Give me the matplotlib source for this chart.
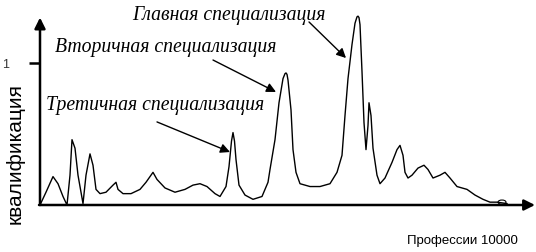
import matplotlib
matplotlib.use('Agg')
import matplotlib.pyplot as plt
from matplotlib.patches import Ellipse

# professions along the axis (0..10000) and qualification level (1 = tick)
professions = [0, 120, 260, 360, 460, 540, 600, 640, 700, 760, 860, 920, 1000, 1060,
               1120, 1200, 1320, 1460, 1520, 1560, 1660, 1820, 2000, 2120, 2260, 2340,
               2500, 2700, 2900, 3060, 3200, 3340, 3500, 3600, 3720, 3780, 3830, 3860,
               3890, 3920, 3980, 4100, 4260, 4440, 4560, 4600, 4700, 4780, 4860, 4900,
               4920, 4940, 4960, 5020, 5060, 5120, 5200, 5400, 5600, 5800, 5940, 6040,
               6100, 6160, 6240, 6300, 6340, 6360, 6380, 6400, 6440, 6480, 6520, 6560,
               6580, 6620, 6660, 6740, 6800, 6900, 7040, 7140, 7200, 7260, 7300, 7360,
               7440, 7560, 7680, 7760, 7860, 8000, 8100, 8200, 8340, 8540, 8700, 8860,
               9000, 9140, 9340]
qualification = [0.00, 0.09, 0.20, 0.15, 0.06, 0.00, 0.21, 0.46, 0.40, 0.21, 0.01, 0.21,
                 0.36, 0.28, 0.11, 0.08, 0.09, 0.14, 0.16, 0.11, 0.08, 0.08, 0.11, 0.16,
                 0.23, 0.18, 0.12, 0.09, 0.11, 0.14, 0.15, 0.13, 0.08, 0.06, 0.13, 0.27,
                 0.45, 0.51, 0.45, 0.32, 0.14, 0.07, 0.04, 0.06, 0.16, 0.25, 0.46, 0.72,
                 0.89, 0.925, 0.93, 0.92, 0.88, 0.67, 0.39, 0.23, 0.15, 0.13, 0.13, 0.15,
                 0.23, 0.35, 0.63, 0.89, 1.13, 1.28, 1.325, 1.33, 1.32, 1.27, 0.94, 0.58,
                 0.39, 0.56, 0.72, 0.63, 0.40, 0.21, 0.15, 0.19, 0.30, 0.39, 0.42, 0.35,
                 0.23, 0.19, 0.21, 0.26, 0.28, 0.25, 0.19, 0.21, 0.23, 0.19, 0.13, 0.11,
                 0.07, 0.04, 0.02, 0.02, 0.01]
blob = (9240, 0.02)

labels = ['Главная специализация', 'Вторичная специализация', 'Третичная специализация']
label_pos = [(1840, 1.331), (300, 1.106), (120, 0.704)]
arrow_from = [(5380, 1.289), (3460, 1.021), (2340, 0.585)]
arrow_to = [(6120, 1.035), (4720, 0.796), (3800, 0.373)]

fig = plt.figure(figsize=(5.36, 2.52), dpi=100)
ax = fig.add_axes([40 / 536, 47 / 252, 495 / 536, 1.40 * 142 / 252])
ax.set_xlim(0, 9900)
ax.set_ylim(0, 1.40)
for s in ax.spines.values():
    s.set_visible(False)

ax.plot(professions, qualification, color='black', lw=1.0, clip_on=False)
ax.add_patch(Ellipse(blob, 160, 0.03, fill=False, lw=0.8, color='black'))

# axes with arrow heads
arr = dict(arrowstyle='-|>', lw=1.8, color='black', mutation_scale=16, shrinkA=0, shrinkB=0)
ax.annotate('', xy=(0, 1.32), xytext=(0, 0), arrowprops=arr, annotation_clip=False)
ax.annotate('', xy=(9900, 0), xytext=(-20, 0), arrowprops=arr, annotation_clip=False)

ax.set_xticks([])
ax.set_yticks([1])
ax.set_yticklabels(['1'], fontsize=9, color='#333333', family='Liberation Sans')
ax.tick_params(axis='y', length=8, width=1.8, pad=14)

for txt, pos, a, b in zip(labels, label_pos, arrow_from, arrow_to):
    ax.text(pos[0], pos[1], txt, fontsize=14.2, family='Liberation Serif', style='italic',
            ha='left', va='center')
    ax.annotate('', xy=b, xytext=a,
                arrowprops=dict(arrowstyle='-|>', lw=1.0, color='black',
                                mutation_scale=14, shrinkA=0, shrinkB=0),
                annotation_clip=False)

fig.text(15 / 536, 1 - 154 / 252, 'квалификация', rotation=90, ha='center', va='center',
         fontsize=15, family='Liberation Sans')
fig.text(462 / 536, 1 - 241 / 252, 'Профессии 10000', ha='center', va='center',
         fontsize=9.5, family='Liberation Sans')

fig.savefig('out.png', dpi=100)
